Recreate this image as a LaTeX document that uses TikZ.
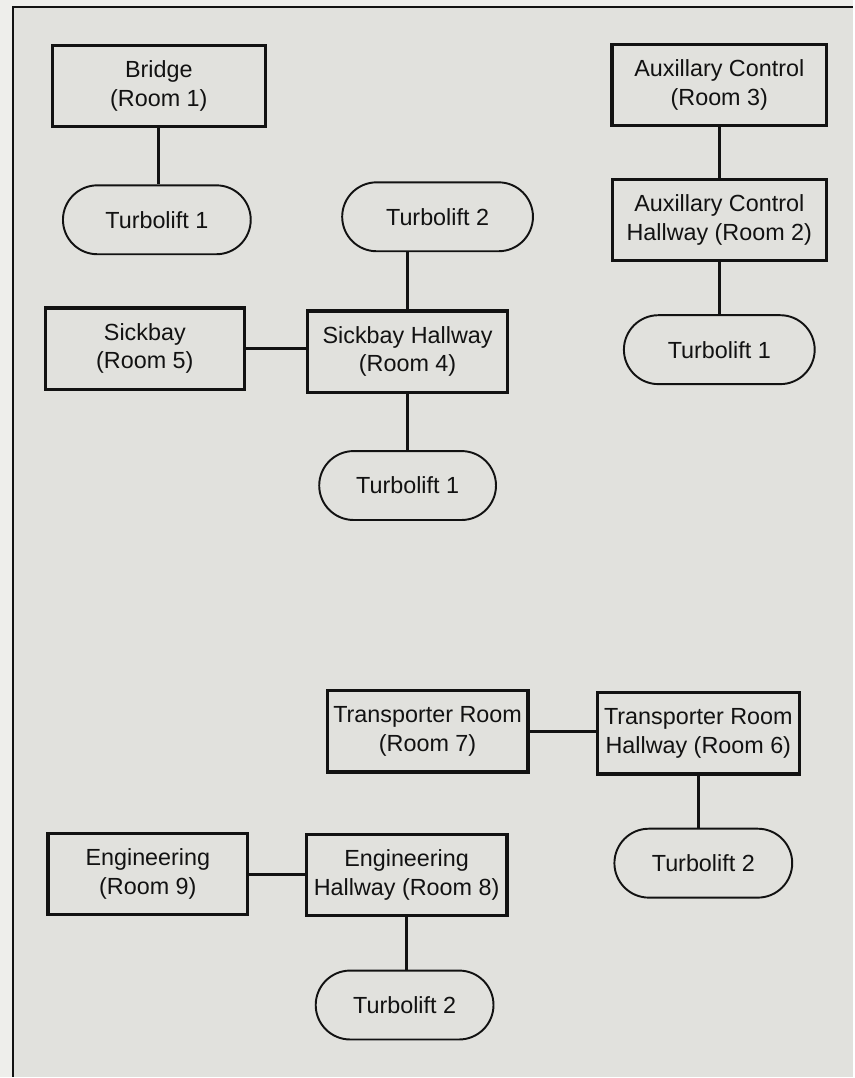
\documentclass[tikz,border=0pt]{standalone}
\usepackage{fontspec}
\setmainfont{Liberation Sans}
\usetikzlibrary{positioning}

\definecolor{paper}{RGB}{238,238,235}
\definecolor{panel}{RGB}{225,225,221}
\definecolor{ink}{RGB}{18,18,18}

\tikzset{
  room/.style={draw=ink, line width=1.8pt, align=center, minimum height=1.63cm,
    inner sep=2pt, text=ink, font=\fontsize{13.3}{16.2}\selectfont},
  lift/.style={draw=ink, line width=1.1pt, rounded corners=0.69cm, minimum height=1.38cm,
    align=center, text=ink, font=\fontsize{13.3}{16.2}\selectfont},
  link/.style={draw=ink, line width=1.7pt}
}

\begin{document}
\begin{tikzpicture}[x=0.02cm,y=-0.02cm]
  % page and panel
  \fill[paper] (0,0) rectangle (854,1078);
  \fill[panel] (13,7) rectangle (854,1078);
  \draw[ink, line width=1.2pt] (13,1078) -- (13,7) -- (854,7);
  \useasboundingbox (0,0) rectangle (854,1078);

  % bridge
  \node[room, minimum width=4.26cm] at (159,86) (bridge) {Bridge\\(Room 1)};
  \node[lift, minimum width=3.76cm] at (157,220) (liftA) {Turbolift 1};
  \draw[link] (bridge.south) -- (bridge.south |- liftA.north);

  % auxillary control
  \node[room, minimum width=4.3cm] at (720,85) (aux) {Auxillary Control\\(Room 3)};
  \node[room, minimum width=4.28cm] at (720,220) (auxhall) {Auxillary Control\\Hallway (Room 2)};
  \node[lift, minimum width=3.82cm] at (720,350) (liftB) {Turbolift 1};
  \draw[link] (aux) -- (auxhall);
  \draw[link] (auxhall) -- (liftB);

  % sickbay
  \node[lift, minimum width=3.82cm] at (438,217) (liftC) {Turbolift 2};
  \node[room, minimum width=3.98cm] at (145,349) (sick) {Sickbay\\(Room 5)};
  \node[room, minimum width=4.0cm] at (408,352) (sickhall) {Sickbay Hallway\\(Room 4)};
  \node[lift, minimum width=3.54cm] at (408,486) (liftD) {Turbolift 1};
  \draw[link] (liftC.south -| sickhall.north) -- (sickhall.north);
  \draw[link] (sick) -- (sick -| sickhall.west);
  \draw[link] (sickhall) -- (liftD);

  % transporter
  \node[room, minimum width=4.02cm] at (428,732) (trans) {Transporter Room\\(Room 7)};
  \node[room, minimum width=4.04cm] at (699,734) (transhall) {Transporter Room\\Hallway (Room 6)};
  \node[lift, minimum width=3.56cm] at (704,864) (liftE) {Turbolift 2};
  \draw[link] (trans) -- (trans -| transhall.west);
  \draw[link] (transhall.south) -- (transhall.south |- liftE.north);

  % engineering
  \node[room, minimum width=4.0cm] at (148,875) (eng) {Engineering\\(Room 9)};
  \node[room, minimum width=4.02cm] at (407,876) (enghall) {Engineering\\Hallway (Room 8)};
  \node[lift, minimum width=3.56cm] at (405,1006) (liftF) {Turbolift 2};
  \draw[link] (eng) -- (eng -| enghall.west);
  \draw[link] (enghall.south) -- (enghall.south |- liftF.north);
\end{tikzpicture}
\end{document}
